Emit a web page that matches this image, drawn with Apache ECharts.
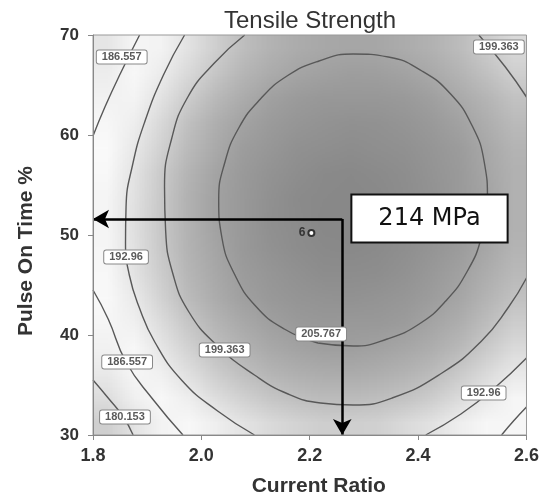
<!DOCTYPE html>
<html>
<head>
<meta charset="utf-8">
<script src="https://cdn.jsdelivr.net/npm/echarts@6/dist/echarts.min.js"></script>
<style>
html, body { margin: 0; padding: 0; background: #fff; }
#chart { width: 542px; height: 504px; }
#shade { position: absolute; left: -1000px; top: 0; width: 16px; height: 16px; }
</style>
</head>
<body>
<div id="chart"></div>
<div id="shade"></div>
<script>
// axis ranges
var xRange = [1.8, 2.6];
var yRange = [30, 70];

// shading grid: bin centres of Current Ratio and Pulse On Time %
var xBins = ['1.825', '1.875', '1.925', '1.975', '2.025', '2.075', '2.125', '2.175',
             '2.225', '2.275', '2.325', '2.375', '2.425', '2.475', '2.525', '2.575'];
var yBins = ['31.25', '33.75', '36.25', '38.75', '41.25', '43.75', '46.25', '48.75',
             '51.25', '53.75', '56.25', '58.75', '61.25', '63.75', '66.25', '68.75'];

// tensile strength (MPa) per cell, bottom row first
var strength = [
  [177.3, 181.6, 185.4, 188.7, 191.4, 193.6, 195.3, 196.5, 197.2, 197.3, 196.9, 196.0, 194.5, 192.6, 190.1, 187.1],
  [180.3, 184.6, 188.4, 191.7, 194.5, 196.7, 198.4, 199.6, 200.3, 200.5, 200.1, 199.2, 197.8, 195.8, 193.4, 190.4],
  [182.9, 187.2, 191.1, 194.4, 197.2, 199.4, 201.2, 202.4, 203.1, 203.2, 202.9, 202.0, 200.6, 198.7, 196.2, 193.3],
  [185.1, 189.5, 193.3, 196.7, 199.5, 201.7, 203.5, 204.8, 205.5, 205.7, 205.3, 204.5, 203.1, 201.2, 198.8, 195.8],
  [186.9, 191.3, 195.2, 198.6, 201.4, 203.7, 205.5, 206.7, 207.5, 207.7, 207.4, 206.5, 205.2, 203.3, 200.9, 198.0],
  [188.4, 192.8, 196.7, 200.1, 202.9, 205.3, 207.1, 208.4, 209.1, 209.3, 209.1, 208.2, 206.9, 205.0, 202.7, 199.7],
  [189.5, 194.0, 197.9, 201.3, 204.1, 206.5, 208.3, 209.6, 210.4, 210.6, 210.4, 209.6, 208.2, 206.4, 204.0, 201.1],
  [190.2, 194.7, 198.6, 202.0, 204.9, 207.3, 209.1, 210.5, 211.2, 211.5, 211.3, 210.5, 209.2, 207.4, 205.1, 202.2],
  [190.6, 195.1, 199.0, 202.4, 205.4, 207.7, 209.6, 210.9, 211.8, 212.1, 211.8, 211.1, 209.8, 208.0, 205.7, 202.8],
  [190.5, 195.0, 199.0, 202.5, 205.4, 207.8, 209.7, 211.1, 211.9, 212.2, 212.0, 211.3, 210.0, 208.2, 205.9, 203.1],
  [190.1, 194.6, 198.6, 202.1, 205.1, 207.5, 209.4, 210.8, 211.6, 212.0, 211.8, 211.1, 209.8, 208.1, 205.8, 203.0],
  [189.3, 193.9, 197.9, 201.4, 204.4, 206.8, 208.7, 210.1, 211.0, 211.4, 211.2, 210.5, 209.3, 207.6, 205.3, 202.5],
  [188.2, 192.7, 196.8, 200.3, 203.3, 205.7, 207.7, 209.1, 210.0, 210.4, 210.2, 209.6, 208.4, 206.7, 204.4, 201.7],
  [186.6, 191.2, 195.3, 198.8, 201.8, 204.3, 206.3, 207.7, 208.6, 209.0, 208.9, 208.3, 207.1, 205.4, 203.2, 200.4],
  [184.7, 189.3, 193.4, 196.9, 200.0, 202.5, 204.5, 205.9, 206.9, 207.3, 207.2, 206.6, 205.4, 203.7, 201.5, 198.8],
  [182.4, 187.0, 191.1, 194.7, 197.7, 200.3, 202.3, 203.8, 204.7, 205.2, 205.1, 204.5, 203.4, 201.7, 199.5, 196.8]
];

// contour lines [current ratio, pulse on time]
var c205 = [[2.215, 39.2], [2.153, 40.6], [2.100, 42.9], [2.061, 46.1], [2.038, 49.7], [2.032, 53.5],
            [2.043, 57.2], [2.069, 60.7], [2.109, 63.6], [2.158, 65.9], [2.217, 67.4], [2.280, 68.1],
            [2.345, 67.8], [2.407, 66.4], [2.460, 64.1], [2.499, 61.0], [2.522, 57.3], [2.528, 53.5],
            [2.517, 49.8], [2.491, 46.4], [2.451, 43.4], [2.402, 41.1], [2.343, 39.6], [2.280, 38.9],
            [2.215, 39.2]];
var c199a = [[2.080, 70], [2.024, 67.2], [1.975, 63.8], [1.945, 59.6], [1.932, 54.8], [1.934, 50.5],
             [1.947, 46.2], [1.977, 42.3], [2.030, 38.9], [2.098, 36.0], [2.160, 34.1], [2.220, 33.2],
             [2.280, 33.0], [2.352, 33.7], [2.444, 36.2], [2.517, 39.4], [2.567, 42.8], [2.6, 45.7]];
var c199b = [[2.512, 70], [2.561, 66.8], [2.6, 63.8]];
var c193a = [[1.969, 70], [1.930, 66.0], [1.896, 61.4], [1.873, 57.0], [1.861, 52.8], [1.860, 49.2],
             [1.867, 46.0], [1.885, 42.8], [1.914, 39.3], [1.965, 35.4], [2.030, 32.4], [2.098, 30]];
var c193b = [[2.414, 30], [2.479, 32.1], [2.539, 34.6], [2.6, 37.7]];
var c187a = [[1.886, 70], [1.851, 66.2], [1.822, 62.8], [1.8, 59.9]];
var c187b = [[1.8, 44.5], [1.828, 41.6], [1.861, 37.3], [1.910, 33.6], [1.966, 30]];
var c187c = [[2.554, 30], [2.576, 31.4], [2.6, 32.8]];
var c180 = [[1.8, 35.5], [1.828, 33.7], [1.856, 31.8], [1.874, 30]];

// contour level labels
var levelLabels = [
  ['186.557', 1.853, 67.8], ['199.363', 2.549, 68.8], ['192.96', 1.861, 47.8],
  ['186.557', 1.863, 37.3], ['180.153', 1.859, 31.8], ['199.363', 2.043, 38.5],
  ['205.767', 2.221, 40.1], ['192.96', 2.521, 34.2]
];

// design centre point and optimum
var designPoint = [2.203, 50.2];
var designRuns = '6';
var optimum = [2.26, 51.6];
var optimumText = '214 MPa';
var optimumBoxAt = [2.421, 51.65];

var shadeColors = ['#c8c8c8', '#e6e6e6', '#ffffff', '#e6e6e6', '#bebebe', '#a0a0a0', '#8a8a8a'];

var heat = [];
for (var r = 0; r < yBins.length; r++) {
    for (var c = 0; c < xBins.length; c++) {
        heat.push([c, r, strength[r][c]]);
    }
}

// heatmap drawn one pixel per cell, then stretched smoothly over the plot
var shade = echarts.init(document.getElementById('shade'), null, { devicePixelRatio: 1 });
shade.setOption({
    animation: false,
    grid: { left: 0, right: 0, top: 0, bottom: 0 },
    xAxis: { type: 'category', data: xBins, show: false },
    yAxis: { type: 'category', data: yBins, show: false },
    visualMap: { show: false, min: 178, max: 212, inRange: { color: shadeColors } },
    series: [{ type: 'heatmap', data: heat, emphasis: { disabled: true } }]
});
shade.getZr().flush();
var shadeCanvas = document.getElementById('shade').getElementsByTagName('canvas')[0];

function contour(data) {
    return {
        type: 'line', data: data, smooth: 0.5, symbol: 'none', silent: true, z: 3,
        lineStyle: { color: '#585858', width: 1.4 }
    };
}

var chart = echarts.init(document.getElementById('chart'));
var series = [];
[c205, c199a, c199b, c193a, c193b, c187a, c187b, c187c, c180].forEach(function (d) {
    series.push(contour(d));
});
series.push({
    type: 'scatter', symbolSize: 0, silent: true, z: 5,
    itemStyle: { opacity: 1 },
    data: levelLabels.map(function (l) { return { name: l[0], value: [l[1], l[2]] }; }),
    label: {
        show: true, position: 'inside', formatter: '{b}',
        fontSize: 11, fontWeight: 'bold', color: '#5a5a5a', fontFamily: 'Liberation Sans',
        backgroundColor: '#fff', borderColor: '#888', borderWidth: 1, borderRadius: 2,
        padding: [1, 5]
    }
});
series.push({
    type: 'scatter', symbol: 'emptyCircle', symbolSize: 6,
    silent: true, z: 5, itemStyle: { color: '#333', borderWidth: 1.2, opacity: 1 },
    data: [designPoint],
    label: { show: true, position: 'left', distance: 2, formatter: designRuns, fontSize: 12, fontWeight: 'bold', color: '#333' }
});
series.push({
    type: 'line', data: [], z: 8,
    markLine: {
        silent: true, animation: false,
        symbol: ['none', 'arrow'], symbolSize: [14, 16],
        label: { show: false },
        lineStyle: { color: '#000', width: 2.5, type: 'solid' },
        data: [
            [{ coord: optimum }, { coord: [xRange[0], optimum[1]] }],
            [{ coord: optimum }, { coord: [optimum[0], yRange[0]] }]
        ]
    }
});
series.push({
    type: 'scatter', symbolSize: 0, silent: true, z: 9,
    itemStyle: { opacity: 1 },
    data: [optimumBoxAt],
    label: {
        show: true, position: 'inside', formatter: optimumText,
        fontSize: 24, fontFamily: 'DejaVu Sans', color: '#111', lineHeight: 28,
        backgroundColor: '#fff', borderColor: '#111', borderWidth: 2,
        padding: [9, 26]
    }
});

chart.setOption({
    animation: false,
    title: {
        text: 'Tensile Strength', left: 305, top: 4, textAlign: 'center',
        textStyle: { fontSize: 24, fontWeight: 'normal', color: '#333', fontFamily: 'Liberation Sans' }
    },
    grid: { left: 93, right: 14, top: 35, bottom: 69, show: true, borderColor: '#999', borderWidth: 1, z: 10 },
    xAxis: {
        type: 'value', min: xRange[0], max: xRange[1], interval: 0.2, z: 10,
        name: 'Current Ratio', nameLocation: 'middle', nameGap: 41,
        nameTextStyle: { fontSize: 21, fontWeight: 'bold', color: '#333', fontFamily: 'Liberation Sans', padding: [0, 0, 0, 18] },
        axisLine: { lineStyle: { color: '#888' } },
        axisTick: { length: 5, lineStyle: { color: '#888' } },
        axisLabel: {
            margin: 12, fontSize: 18, fontWeight: 'bold', color: '#333', fontFamily: 'Liberation Sans',
            formatter: function (v) { return v.toFixed(1); }
        },
        splitLine: { show: false }
    },
    yAxis: {
        type: 'value', min: yRange[0], max: yRange[1], interval: 10, z: 10,
        name: 'Pulse On Time %', nameLocation: 'middle', nameGap: 56,
        nameTextStyle: { fontSize: 21, fontWeight: 'bold', color: '#333', fontFamily: 'Liberation Sans', padding: [0, 32, 0, 0] },
        axisLine: { show: true, lineStyle: { color: '#888' } },
        axisTick: { show: true, length: 5, lineStyle: { color: '#888' } },
        axisLabel: { margin: 14, fontSize: 17, fontWeight: 'bold', color: '#333', fontFamily: 'Liberation Sans' },
        splitLine: { show: false }
    },
    series: series
});

// place the smoothed heatmap inside the plot area
var topLeft = chart.convertToPixel({ xAxisIndex: 0, yAxisIndex: 0 }, [xRange[0], yRange[1]]);
var bottomRight = chart.convertToPixel({ xAxisIndex: 0, yAxisIndex: 0 }, [xRange[1], yRange[0]]);
chart.setOption({
    graphic: [{
        type: 'image', silent: true, z: 1,
        style: {
            image: shadeCanvas, x: topLeft[0], y: topLeft[1],
            width: bottomRight[0] - topLeft[0], height: bottomRight[1] - topLeft[1]
        }
    }]
});
</script>
</body>
</html>
